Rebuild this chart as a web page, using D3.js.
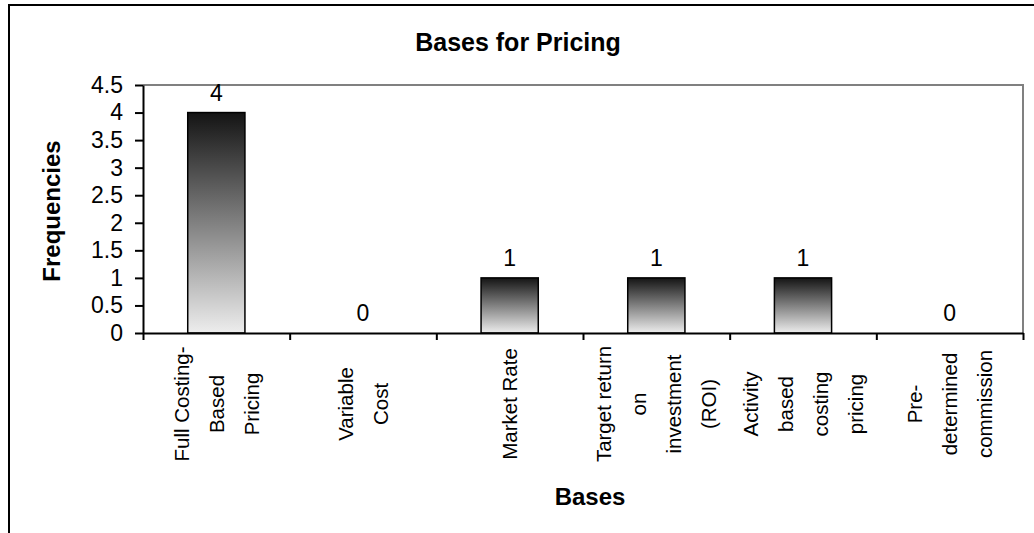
<!DOCTYPE html>
<html>
<head>
<meta charset="utf-8">
<script src="https://cdn.jsdelivr.net/npm/d3@7"></script>
<style>
  body { margin: 0; background: #fff; }
  text { font-family: "Liberation Sans", Arial, sans-serif; fill: #000; }
</style>
</head>
<body>
<div id="chart"></div>
<script>
// DATA
const categories = ["Full Costing-Based Pricing", "Variable Cost", "Market Rate",
                    "Target return on investment (ROI)", "Activity based costing pricing",
                    "Pre-determined commission"];
const categoryLines = [["Full Costing-", "Based", "Pricing"], ["Variable", "Cost"], ["Market Rate"],
                       ["Target return", "on", "investment", "(ROI)"],
                       ["Activity", "based", "costing", "pricing"],
                       ["Pre-", "determined", "commission"]];
const frequencies = [4, 0, 1, 1, 1, 0];
const yTicks = [0, 0.5, 1, 1.5, 2, 2.5, 3, 3.5, 4, 4.5];
const chartTitle = "Bases for Pricing";
const xTitle = "Bases";
const yTitle = "Frequencies";

// Chart variables
const W = 1034, H = 533;
const plotLeft = 143, plotRight = 1023, plotTop = 85, plotBottom = 333;

var svg = d3.select("#chart").append("svg")
    .attr("width", W)
    .attr("height", H);

// gradient for bars (dark top, light bottom)
var grad = svg.append("defs").append("linearGradient")
    .attr("id", "barGrad")
    .attr("x1", 0).attr("y1", 0).attr("x2", 0).attr("y2", 1);
grad.append("stop").attr("offset", "0%").attr("stop-color", "#141414");
grad.append("stop").attr("offset", "100%").attr("stop-color", "#ededed");

// outer frame (runs past the window on right and bottom)
svg.append("rect")
    .attr("x", 9).attr("y", 5)
    .attr("width", W + 50).attr("height", H + 50)
    .attr("fill", "none").attr("stroke", "#000").attr("stroke-width", 2);

// Scales
const xScale = d3.scaleBand().domain(categories).range([plotLeft, plotRight]).padding(0);
const xEdge = d3.scaleLinear().domain([0, categories.length]).range([plotLeft, plotRight]);
const yScale = d3.scaleLinear().domain([0, 4.5]).range([plotBottom, plotTop]);
const barW = xScale.bandwidth() * 0.39;

// plot area border (top + right, grey)
svg.append("path")
    .attr("d", `M${plotLeft},${yScale(4.5)}H${xEdge(categories.length)}V${plotBottom}`)
    .attr("fill", "none").attr("stroke", "#808080").attr("stroke-width", 2);

// bars
svg.selectAll("rect.bar")
    .data(frequencies.map((v, i) => ({ c: categories[i], v: v })).filter(d => d.v > 0))
    .enter().append("rect")
    .attr("class", "bar")
    .attr("x", d => xScale(d.c) + (xScale.bandwidth() - barW) / 2)
    .attr("y", d => yScale(d.v))
    .attr("width", barW)
    .attr("height", d => yScale(0) - yScale(d.v))
    .attr("fill", "url(#barGrad)")
    .attr("stroke", "#000")
    .attr("stroke-width", 1.5);

// value labels
svg.selectAll("text.val")
    .data(frequencies)
    .enter().append("text")
    .attr("class", "val")
    .attr("x", (d, i) => xScale(categories[i]) + xScale.bandwidth() / 2)
    .attr("y", d => yScale(d) - 12)
    .attr("text-anchor", "middle")
    .style("font-size", "23px")
    .text(d => d);

// y axis
var yAxis = svg.append("g")
    .attr("transform", `translate(${plotLeft},0)`)
    .call(d3.axisLeft(yScale).tickValues(yTicks).tickFormat(d3.format("")).tickSizeInner(8).tickSizeOuter(0).tickPadding(12));
yAxis.selectAll("text").style("font-size", "23px").attr("fill", "#000");

// x axis (ticks between categories)
var xAxis = svg.append("g")
    .attr("transform", `translate(0,${plotBottom})`)
    .call(d3.axisBottom(xEdge).ticks(categories.length).tickFormat("").tickSizeInner(7).tickSizeOuter(0));

svg.selectAll(".domain, .tick line")
    .attr("stroke", "#000").attr("stroke-width", 2);

// category labels, rotated, one text per line
categoryLines.forEach(function(lines, i) {
    var cx = xScale(categories[i]) + xScale.bandwidth() / 2;
    var g = svg.append("g").attr("transform", `translate(${cx},404)`);
    lines.forEach(function(line, j) {
        var dx = (j - (lines.length - 1) / 2) * 35;
        g.append("text")
            .attr("transform", `translate(${dx},0) rotate(-90)`)
            .attr("text-anchor", "middle")
            .attr("dy", "0.35em")
            .style("font-size", "20.5px")
            .text(line);
    });
});

// titles
svg.append("text")
    .attr("x", 518).attr("y", 51)
    .attr("text-anchor", "middle")
    .style("font-size", "25px").style("font-weight", "bold")
    .text(chartTitle);

svg.append("text")
    .attr("x", 590).attr("y", 505)
    .attr("text-anchor", "middle")
    .style("font-size", "24px").style("font-weight", "bold")
    .text(xTitle);

svg.append("text")
    .attr("transform", "translate(52,211) rotate(-90)")
    .attr("text-anchor", "middle")
    .attr("dy", "0.35em")
    .style("font-size", "24px").style("font-weight", "bold")
    .text(yTitle);
</script>
</body>
</html>
